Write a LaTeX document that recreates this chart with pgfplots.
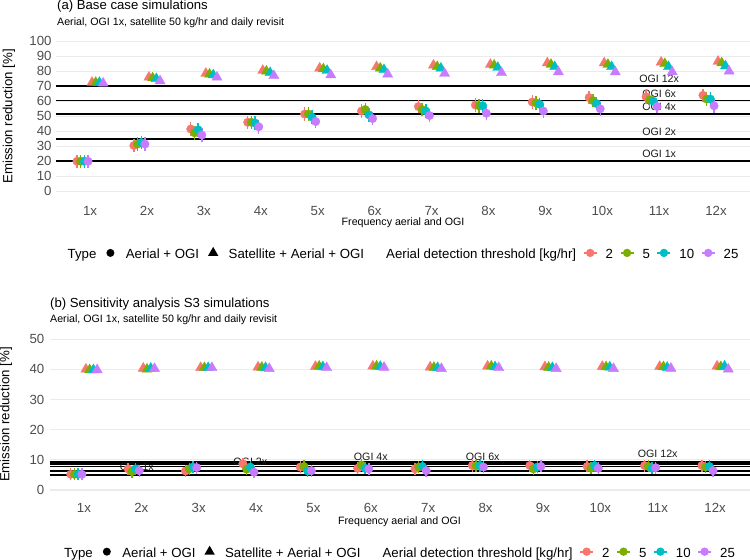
\documentclass[border=0pt]{standalone}
\usepackage{fontspec}
\setmainfont{Liberation Sans}
\usepackage{pgfplots}
\pgfplotsset{compat=1.18}
\usepackage{pgfplotstable}

\definecolor{cA}{HTML}{F8766D}
\definecolor{cB}{HTML}{7CAE00}
\definecolor{cC}{HTML}{00BFC4}
\definecolor{cD}{HTML}{C77CFF}
\definecolor{gridc}{HTML}{EBEBEB}
\definecolor{tickc}{HTML}{4D4D4D}

\newcommand\LF{\fontsize{13.3}{15}\selectfont}
\newcommand\SF{\fontsize{10.7}{12}\selectfont}
\newcommand\LS{\rule[-3.5bp]{0pt}{16.5bp}}

\tikzset{ogi/.style={font=\SF, text=black!90, inner sep=0pt}}

% panel (a): circles = Aerial + OGI, triangles = Satellite + Aerial + OGI
\pgfplotstableread{
x c2 c5 c10 c25 t2 t5 t10 t25
1 20 20 20 20 72.5 72.5 72.5 72
2 30.5 31.5 32.5 31.5 76 75.5 75 73.5
3 41.5 39 41 37.5 78.5 78 77.5 76
4 46 46 45.5 43 80.5 80 79 77
5 51.5 51.5 49.5 46.5 82 81.5 80.5 77.5
6 53.5 54.5 51 48.5 83 82 81 78
7 56.5 54.5 53.5 50.5 84 83 82 78.5
8 57.5 57 57 52 84.5 84 82.5 79
9 59.5 59 58 53.5 85.5 84.5 83 79.5
10 62.5 60.5 58.5 55 85.5 84.5 83 79.5
11 63 61 60 56.5 86 85 83 79.5
12 64 61.5 61.5 57 86.5 85.5 83.5 80
}\topdata

% panel (b)
\pgfplotstableread{
x c2 c5 c10 c25 t2 t5 t10 t25
1 5.2 5.2 5.2 5.2 40.0 39.8 39.8 39.8
2 7.0 6.1 7.0 6.4 40.3 40.0 40.3 40.2
3 6.3 7.0 7.6 7.4 40.5 40.5 40.5 40.5
4 8.7 6.9 7.6 5.9 40.7 40.6 40.5 40.2
5 7.6 7.8 6.3 6.4 40.9 41.0 40.8 40.5
6 7.2 8.3 7.2 7.0 41.0 41.0 40.9 40.6
7 7.0 7.6 7.8 6.4 40.7 40.6 40.5 40.2
8 8.1 8.0 8.1 7.6 41.0 41.0 40.8 40.5
9 8.1 7.0 7.6 7.8 40.8 40.6 40.5 40.2
10 7.8 7.2 8.1 7.2 40.9 40.8 40.7 40.2
11 8.1 7.8 7.2 7.4 40.9 40.8 40.6 40.3
12 8.1 7.6 7.8 6.4 41.0 40.8 41.0 40.0
}\botdata

\pgfplotsset{
  circ/.style={only marks, mark=*, mark size=4.2bp, forget plot,
    error bars/y dir=both, error bars/y fixed=#1, error bars/error mark=none,
    error bars/error bar style={line width=1.4bp}},
  tri/.style={only marks, mark=triangle*, mark size=5.9bp, forget plot,
    error bars/y dir=both, error bars/y fixed=#1, error bars/error mark=none,
    error bars/error bar style={line width=1.4bp}},
  hl/.style={black, line width=1.8bp, forget plot},
  myaxis/.style={
    scale only axis,
    xmin=0.4, xmax=12.6,
    xtick={1,2,3,4,5,6,7,8,9,10,11,12},
    xticklabels={1x,2x,3x,4x,5x,6x,7x,8x,9x,10x,11x,12x},
    major tick length=0pt, minor tick num=0,
    axis line style={draw=none},
    ymajorgrids, grid style={gridc, line width=1.1bp},
    tick label style={font=\LF, text=tickc, inner sep=0pt},
    xticklabel style={anchor=center},
    yticklabel style={anchor=east},
    /pgf/number format/assume math mode=true,
    xlabel={Frequency aerial and OGI},
    ylabel={Emission reduction [\%]},
    clip=false,
    legend columns=-1,
    legend cell align=left,
    legend style={draw=none, fill=none, inner sep=0pt, outer sep=0pt,
      column sep=0pt, row sep=0pt, nodes={inner sep=0pt, font=\LF, text=black}},
  },
  legimgs/.code={
    \addlegendimage{legend image code/.code={}}
    \addlegendentry{\LS Type}
    \addlegendimage{legend image code/.code={\path[draw=none,fill=none] (0bp,-6bp) rectangle (29.5bp,6bp); \fill[black,draw=none] (14bp,0bp) circle (4bp);}}
    \addlegendentry{\LS Aerial + OGI}
    \addlegendimage{legend image code/.code={\path[draw=none,fill=none] (0bp,-6bp) rectangle (29.5bp,6bp); \fill[black,draw=none] (14bp,6bp) -- (8.8bp,-3bp) -- (19.2bp,-3bp) -- cycle;}}
    \addlegendentry{\LS Satellite + Aerial + OGI}
    \addlegendimage{legend image code/.code={\path[draw=none,fill=none] (0bp,-1bp) rectangle (22bp,1bp);}}
    \addlegendentry{\LS Aerial detection threshold [kg/hr]}
    \addlegendimage{legend image code/.code={\path[draw=none,fill=none] (0bp,-6bp) rectangle (29.5bp,6bp); \draw[cA,line width=2bp] (7.5bp,0) -- (20.5bp,0); \fill[cA,draw=none] (14bp,0) circle (4.2bp);}}
    \addlegendentry{\LS 2}
    \addlegendimage{legend image code/.code={\path[draw=none,fill=none] (0bp,-6bp) rectangle (29.5bp,6bp); \draw[cB,line width=2bp] (7.5bp,0) -- (20.5bp,0); \fill[cB,draw=none] (14bp,0) circle (4.2bp);}}
    \addlegendentry{\LS 5}
    \addlegendimage{legend image code/.code={\path[draw=none,fill=none] (0bp,-6bp) rectangle (29.5bp,6bp); \draw[cC,line width=2bp] (7.5bp,0) -- (20.5bp,0); \fill[cC,draw=none] (14bp,0) circle (4.2bp);}}
    \addlegendentry{\LS 10}
    \addlegendimage{legend image code/.code={\path[draw=none,fill=none] (0bp,-6bp) rectangle (29.5bp,6bp); \draw[cD,line width=2bp] (7.5bp,0) -- (20.5bp,0); \fill[cD,draw=none] (14bp,0) circle (4.2bp);}}
    \addlegendentry{\LS 25}
  },
}

\begin{document}
\begin{tikzpicture}
\path[use as bounding box] (0,0) rectangle (750bp,560bp);

% ---------------- panel (a)
\begin{axis}[myaxis,
  at={(55.9bp,361.2bp)}, anchor=south west,
  width=694.3bp, height=165bp,
  ymin=-5, ymax=105, ytick={0,10,...,100},
  xticklabel shift=11.9bp, yticklabel shift=4.2bp,
  xlabel style={at={(axis description cs:0.5,-0.1448)}, font=\SF, anchor=center, inner sep=0pt},
  ylabel style={at={(axis description cs:-0.0677,0.5)}, rotate=0, font=\LF, anchor=center, inner sep=0pt},
  legend style={at={(0.5,-0.328)}, anchor=center},
]
\pgfplotsset{legimgs}
\addplot[hl] coordinates {(0.4,20) (12.6,20)};
\addplot[hl] coordinates {(0.4,35) (12.6,35)};
\addplot[hl] coordinates {(0.4,51.5) (12.6,51.5)};
\addplot[hl] coordinates {(0.4,60.5) (12.6,60.5)};
\addplot[hl] coordinates {(0.4,70) (12.6,70)};
\node[ogi] at (axis cs:11,75) {OGI 12x};
\node[ogi] at (axis cs:11,65.3) {OGI 6x};
\node[ogi] at (axis cs:11,56.4) {OGI 4x};
\node[ogi] at (axis cs:11,39.5) {OGI 2x};
\node[ogi] at (axis cs:11,25.3) {OGI 1x};
\addplot[circ=4.5, color=cA] table[x expr=\thisrow{x}-0.23, y=c2] {\topdata};
\addplot[circ=4.5, color=cB] table[x expr=\thisrow{x}-0.165, y=c5] {\topdata};
\addplot[circ=4.5, color=cC] table[x expr=\thisrow{x}-0.10, y=c10] {\topdata};
\addplot[circ=4.5, color=cD] table[x expr=\thisrow{x}-0.035, y=c25] {\topdata};
\addplot[tri=1.5, color=cA] table[x expr=\thisrow{x}+0.035, y=t2] {\topdata};
\addplot[tri=1.5, color=cB] table[x expr=\thisrow{x}+0.10, y=t5] {\topdata};
\addplot[tri=1.5, color=cC] table[x expr=\thisrow{x}+0.165, y=t10] {\topdata};
\addplot[tri=1.5, color=cD] table[x expr=\thisrow{x}+0.23, y=t25] {\topdata};
\end{axis}

% ---------------- panel (b)
\begin{axis}[myaxis,
  at={(49.5bp,62.45bp)}, anchor=south west,
  width=700bp, height=166bp,
  ymin=-2.5, ymax=52.5, ytick={0,10,...,50},
  xticklabel shift=10.8bp, yticklabel shift=5bp,
  xlabel style={at={(axis description cs:0.5,-0.1455)}, font=\SF, anchor=center, inner sep=0pt},
  ylabel style={at={(axis description cs:-0.0621,0.5)}, rotate=0, font=\LF, anchor=center, inner sep=0pt},
  legend style={at={(0.5,-0.326)}, anchor=center},
]
\pgfplotsset{legimgs}
\addplot[hl] coordinates {(0.4,5.1) (12.6,5.1)};
\addplot[hl] coordinates {(0.4,6.4) (12.6,6.4)};
\addplot[hl] coordinates {(0.4,7.8) (12.6,7.8)};
\addplot[hl] coordinates {(0.4,8.7) (12.6,8.7)};
\addplot[hl] coordinates {(0.4,9.4) (12.6,9.4)};
\node[ogi] at (axis cs:1.92,7.8) {OGI 1x};
\node[ogi] at (axis cs:3.9,9.4) {OGI 2x};
\node[ogi] at (axis cs:6,11.1) {OGI 4x};
\node[ogi] at (axis cs:7.95,11.1) {OGI 6x};
\node[ogi] at (axis cs:11,11.9) {OGI 12x};
\addplot[circ=2, color=cA] table[x expr=\thisrow{x}-0.23, y=c2] {\botdata};
\addplot[circ=2, color=cB] table[x expr=\thisrow{x}-0.165, y=c5] {\botdata};
\addplot[circ=2, color=cC] table[x expr=\thisrow{x}-0.10, y=c10] {\botdata};
\addplot[circ=2, color=cD] table[x expr=\thisrow{x}-0.035, y=c25] {\botdata};
\addplot[tri=0.8, color=cA] table[x expr=\thisrow{x}+0.035, y=t2] {\botdata};
\addplot[tri=0.8, color=cB] table[x expr=\thisrow{x}+0.10, y=t5] {\botdata};
\addplot[tri=0.8, color=cC] table[x expr=\thisrow{x}+0.165, y=t10] {\botdata};
\addplot[tri=0.8, color=cD] table[x expr=\thisrow{x}+0.23, y=t25] {\botdata};
\end{axis}

\node[anchor=west, inner sep=0pt, font=\fontsize{13.2}{15}\selectfont] at (57bp,553.6bp) {(a) Base case simulations};
\node[anchor=west, inner sep=0pt, font=\SF] at (57bp,537.5bp) {Aerial, OGI 1x, satellite 50 kg/hr and daily revisit};
\node[anchor=west, inner sep=0pt, font=\fontsize{13.2}{15}\selectfont] at (50bp,256.3bp) {(b) Sensitivity analysis S3 simulations};
\node[anchor=west, inner sep=0pt, font=\SF] at (50bp,240bp) {Aerial, OGI 1x, satellite 50 kg/hr and daily revisit};
\end{tikzpicture}
\end{document}
